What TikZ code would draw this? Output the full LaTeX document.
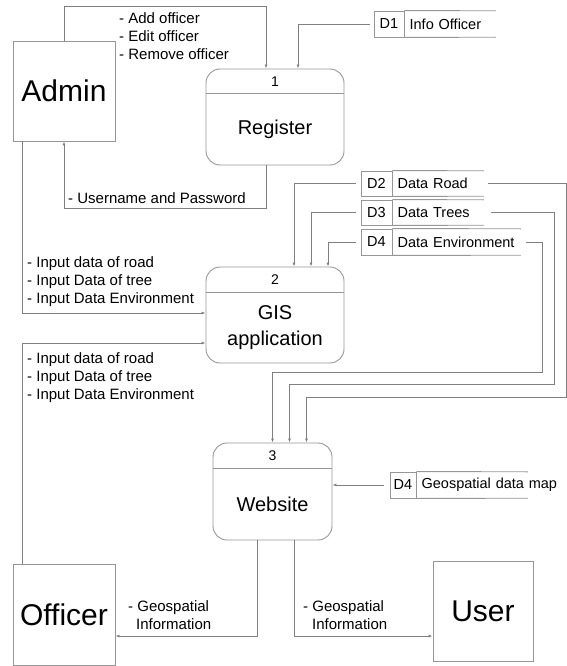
\documentclass[tikz,border=0pt]{standalone}
\usepackage{fontspec}
\setmainfont{Liberation Sans}
\usetikzlibrary{arrows.meta, positioning, calc}
\definecolor{linegray}{RGB}{128,128,128}
\definecolor{boxgray}{RGB}{150,150,150}
\tikzset{
  >={Latex[length=4pt,width=3pt]},
  % Entita' esterne
  entity/.style={draw=boxgray,line width=0.9pt,minimum width=102pt,minimum height=100pt,inner sep=0pt,font=\fontsize{30}{36}\selectfont},
  % Processi
  process/.style={draw=boxgray,line width=0.9pt,rounded corners=14pt,inner sep=0pt},
  procnum/.style={minimum height=25pt,inner sep=0pt,font=\fontsize{14}{16}\selectfont},
  proctext/.style={align=center,inner sep=0pt,font=\fontsize{20}{26}\selectfont},
  divider/.style={draw=boxgray,line width=0.9pt},
  % Archivi dati
  storeid/.style={draw=boxgray,line width=0.9pt,minimum height=25pt,inner sep=0pt,font=\fontsize{14.5}{17}\selectfont},
  storename/.style={minimum height=25pt,inner xsep=5pt,inner ysep=0pt,align=left,font=\fontsize{14.5}{17}\selectfont},
  % Flussi
  flow/.style={->,draw=linegray,line width=0.9pt},
  flowlabel/.style={align=left,inner sep=0pt,font=\fontsize{15}{18}\selectfont}
}
\begin{document}
\begin{tikzpicture}[x=1pt,y=-1pt]
  \useasboundingbox (0,0) rectangle (567,666);
  % entita'
  \node[entity] (admin) at (64,91) {Admin};
  \node[entity,minimum height=101pt] (officer) at (64,614.5) {Officer};
  \node[entity,minimum width=100pt] (user) at (483,611) {User};
  % processo 1
  \node[process,minimum width=138pt,minimum height=96pt] (reg) at (275,117) {};
  \node[procnum,below=0pt of reg.north] (regnum) {1};
  \draw[divider] (reg.west |- regnum.south) -- (reg.east |- regnum.south);
  \node[proctext] (regtxt) at ($(regnum.south)!0.5!(reg.south)$) {Register};
  % processo 2
  \node[process,minimum width=138pt,minimum height=96pt] (gis) at (275,315) {};
  \node[procnum,below=0pt of gis.north] (gisnum) {2};
  \draw[divider] (gis.west |- gisnum.south) -- (gis.east |- gisnum.south);
  \node[proctext] (gistxt) at ($(gisnum.south)!0.5!(gis.south)$) {GIS\\application};
  % processo 3
  \node[process,minimum width=119pt,minimum height=97pt] (web) at (272.5,491.5) {};
  \node[procnum,below=0pt of web.north] (webnum) {3};
  \draw[divider] (web.west |- webnum.south) -- (web.east |- webnum.south);
  \node[proctext] (webtxt) at ($(webnum.south)!0.5!(web.south)$) {Website};
  % archivi
  \node[storeid,minimum width=30pt,minimum height=26pt] (d1) at (389,24) {D1};
  \node[storename,minimum height=26pt,text width=81pt,right=0pt of d1] (d1n) {Info Officer};
  \node[storeid,minimum width=31pt] (d2) at (376.5,183.5) {D2};
  \node[storename,text width=81pt,right=0pt of d2] (d2n) {Data Road};
  \node[storeid,minimum width=31pt] (d3) at (376.5,212.5) {D3};
  \node[storename,text width=81pt,right=0pt of d3] (d3n) {Data Trees};
  \node[storeid,minimum width=31pt,minimum height=26pt] (d4) at (376.5,242) {D4};
  \node[storename,minimum height=26pt,text width=118pt,right=0pt of d4] (d4n) {Data Environment};
  \node[storeid,minimum width=26pt,minimum height=26pt] (d5) at (403,485) {D4};
  \node[storename,minimum height=26pt,text width=101pt,right=0pt of d5] (d5n) {\mbox{Geospatial data map}};
  \foreach \s in {d1,d2,d3,d4,d5}{
    \draw[divider] (\s.north east) -- (\s n.north east);
    \draw[divider] (\s.south east) -- (\s n.south east);
  }
  % flussi admin / register
  \draw[flow] (admin.north) -- ++(0,-34) -| ([xshift=-9pt]reg.north);
  \draw[flow] ([xshift=-9pt]reg.south) -- ++(0,43) -| (admin.south);
  \draw[flow,shorten <=4pt] (d1.west) -| ([xshift=23pt]reg.north);
  \node[flowlabel,anchor=west] (lbladd) at (119,36) {- Add officer\\- Edit officer\\- Remove officer};
  \node[flowlabel,anchor=west] (lbllogin) at (68,198) {- Username and Password};
  % flussi verso GIS
  \draw[flow] ([xshift=-42pt]admin.south) |- ([yshift=2pt]gis.west);
  \draw[flow] ([xshift=-42pt]officer.north) |- ([yshift=-28pt]gis.west);
  \node[flowlabel,anchor=west] (lblin1) at (27,282) {- Input data of road\\- Input Data of tree\\- Input Data Environment};
  \node[flowlabel,anchor=west] (lblin2) at (27,378) {- Input data of road\\- Input Data of tree\\- Input Data Environment};
  \draw[flow,shorten <=5pt] (d2.west) -| ([xshift=19pt]gis.north);
  \draw[flow,shorten <=5pt] (d3.west) -| ([xshift=36pt]gis.north);
  \draw[flow,shorten <=5pt] (d4.west) -| ([xshift=53pt]gis.north);
  % flussi verso website
  \draw[flow,shorten <=4pt] (d2n.east) -| ++(83,214) -| ([xshift=34pt]web.north);
  \draw[flow,shorten <=7pt] (d3n.east) -| ++(71,171.5) -| ([xshift=17pt]web.north);
  \draw[flow,shorten <=5pt] (d4n.east) -| ++(22,130) -| (web.north);
  \draw[flow,shorten <=6pt] (d5.west) -- (web.east |- d5.west);
  % flussi in uscita
  \draw[flow] ([xshift=-15.5pt]web.south) |- ([yshift=-21.5pt]officer.east);
  \draw[flow] ([xshift=21.5pt]web.south) |- ([yshift=-25pt]user.west);
  \node[flowlabel,anchor=west] (lblgeo1) at (128,615) {- Geospatial\\\hspace{8pt}Information};
  \node[flowlabel,anchor=west] (lblgeo2) at (303,615) {- Geospatial\\\hspace{9pt}Information};
\end{tikzpicture}
\end{document}
